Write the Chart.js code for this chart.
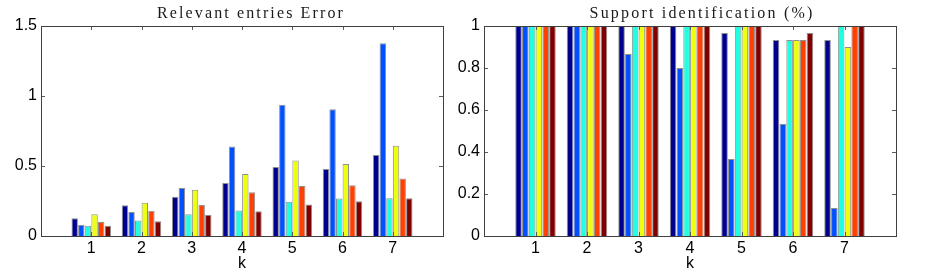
<!DOCTYPE html>
<html>
<head>
<meta charset="utf-8">
<script src="https://cdn.jsdelivr.net/npm/chart.js@4/dist/chart.umd.min.js"></script>
<style>
  html, body { margin: 0; padding: 0; background: #ffffff; }
  #wrap { position: relative; width: 926px; height: 280px; overflow: hidden; background: #fff; }
  .box { position: absolute; top: 0; height: 280px; }
  #b1 { left: 0; width: 463px; }
  #b2 { left: 430px; width: 496px; }
</style>
</head>
<body>
<div id="wrap">
  <div class="box" id="b1"><canvas id="c1" width="463" height="280"></canvas></div>
  <div class="box" id="b2"><canvas id="c2" width="496" height="280"></canvas></div>
</div>
<script>
// ---- data ----
const categories = [1, 2, 3, 4, 5, 6, 7];
const seriesColors = ['#00008F', '#0050FF', '#20FFDF', '#EFFF10', '#FF4000', '#800000'];

// Relevant entries Error
const errNavy    = [0.126, 0.219, 0.281, 0.379, 0.492, 0.479, 0.579];
const errBlue    = [0.079, 0.171, 0.343, 0.640, 0.938, 0.905, 1.376];
const errCyan    = [0.074, 0.110, 0.155, 0.183, 0.244, 0.268, 0.270];
const errYellow  = [0.155, 0.238, 0.331, 0.443, 0.540, 0.515, 0.644];
const errOrange  = [0.100, 0.181, 0.221, 0.312, 0.358, 0.363, 0.411];
const errDarkred = [0.074, 0.105, 0.152, 0.176, 0.225, 0.249, 0.270];

// Support identification (%)
const supNavy    = [1, 1, 1, 1, 0.967, 0.933, 0.933];
const supBlue    = [1, 1, 0.867, 0.8, 0.367, 0.533, 0.133];
const supCyan    = [1, 1, 1, 1, 1, 0.933, 1];
const supYellow  = [1, 1, 1, 1, 1, 0.933, 0.9];
const supOrange  = [1, 1, 1, 1, 1, 0.933, 1];
const supDarkred = [1, 1, 1, 1, 1, 0.967, 1];

const yTicksErr = [0, 0.5, 1, 1.5];
const yTicksSup = [0, 0.2, 0.4, 0.6, 0.8, 1];
const xLabel = 'k';
const titleErr = 'Relevant entries Error';
const titleSup = 'Support identification (%)';

// ---- helpers ----
function makeDatasets(seriesList) {
  return seriesList.map((vals, i) => ({
    data: categories.map((c, j) => ({ x: c, y: vals[j] })),
    backgroundColor: seriesColors[i],
    borderColor: '#8f8f8f',
    borderWidth: 1,
    categoryPercentage: 0.79,
    barPercentage: 0.97
  }));
}

const boxPlugin = {
  id: 'matlabBox',
  afterDatasetsDraw(chart, args, opts) {
    const { ctx, chartArea: a, scales } = chart;
    ctx.save();
    ctx.strokeStyle = '#5a5a5a';
    ctx.lineWidth = 1;
    const tl = 4;
    scales.x.ticks.forEach(t => {
      const px = Math.round(scales.x.getPixelForValue(t.value)) + 0.5;
      ctx.beginPath();
      ctx.moveTo(px, a.bottom); ctx.lineTo(px, a.bottom - tl);
      ctx.moveTo(px, a.top); ctx.lineTo(px, a.top + tl);
      ctx.stroke();
    });
    scales.y.ticks.forEach(t => {
      const py = Math.round(scales.y.getPixelForValue(t.value)) + 0.5;
      ctx.beginPath();
      ctx.moveTo(a.left, py); ctx.lineTo(a.left + tl, py);
      ctx.moveTo(a.right, py); ctx.lineTo(a.right - tl, py);
      ctx.stroke();
    });
    ctx.strokeStyle = '#404040';
    ctx.strokeRect(Math.round(a.left) + 0.5, Math.round(a.top) + 0.5,
                   Math.round(a.right - a.left), Math.round(a.bottom - a.top));
    // title (serif, letter-spaced to the reference width)
    ctx.fillStyle = '#1a1a1a';
    ctx.font = '16px "Liberation Serif", "DejaVu Serif", serif';
    ctx.textAlign = 'center';
    ctx.textBaseline = 'middle';
    if ('letterSpacing' in ctx) {
      ctx.letterSpacing = '0px';
      const w = ctx.measureText(opts.text).width;
      const sp = Math.max(0, (opts.width - w) / opts.text.length);
      ctx.letterSpacing = sp.toFixed(2) + 'px';
    }
    ctx.fillText(opts.text, opts.cx, 14);
    ctx.restore();
  }
};

const sansFont = '"Liberation Sans", Arial, sans-serif';

function makeChart(id, seriesList, yTicks, yMax, yWidth, padRight, title, cx, tw) {
  return new Chart(document.getElementById(id), {
    type: 'bar',
    data: { datasets: makeDatasets(seriesList) },
    plugins: [boxPlugin],
    options: {
      responsive: false,
      animation: false,
      devicePixelRatio: 1,
      layout: { padding: { top: 26, right: padRight, left: 0, bottom: 0 } },
      plugins: {
        legend: { display: false },
        tooltip: { enabled: false },
        title: { display: false },
        matlabBox: { text: title, cx: cx, width: tw }
      },
      scales: {
        x: {
          type: 'linear',
          min: 0, max: 8,
          offset: false,
          grid: { display: false, drawTicks: false },
          border: { display: false },
          afterBuildTicks: s => { s.ticks = categories.map(v => ({ value: v })); },
          afterFit: s => { s.height = 44; },
          ticks: {
            color: '#000',
            padding: 3,
            font: { family: sansFont, size: 16 },
            callback: v => String(v)
          },
          title: {
            display: true, text: xLabel, color: '#000',
            padding: { top: 0, bottom: 7 },
            font: { family: sansFont, size: 16 }
          }
        },
        y: {
          min: 0, max: yMax,
          grid: { display: false, drawTicks: false },
          border: { display: false },
          afterBuildTicks: s => { s.ticks = yTicks.map(v => ({ value: v })); },
          afterFit: s => { s.width = yWidth; },
          ticks: {
            color: '#000',
            padding: 4,
            font: { family: sansFont, size: 16 },
            callback: v => String(v)
          }
        }
      }
    }
  });
}

makeChart('c1', [errNavy, errBlue, errCyan, errYellow, errOrange, errDarkred],
          yTicksErr, 1.5, 41, 20, titleErr, 251, 188);
makeChart('c2', [supNavy, supBlue, supCyan, supYellow, supOrange, supDarkred],
          yTicksSup, 1, 54, 30, titleSup, 702 - 430, 225);
</script>
</body>
</html>
